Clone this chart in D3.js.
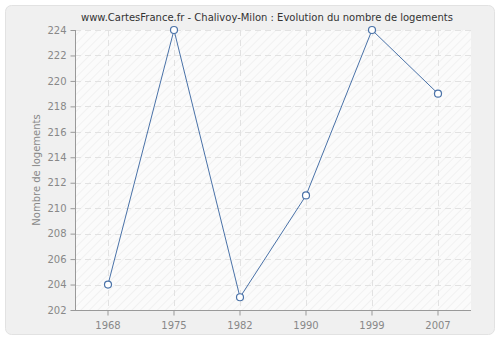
<!DOCTYPE html>
<html>
<head>
<meta charset="utf-8">
<script src="https://cdn.jsdelivr.net/npm/d3@7"></script>
<style>
  body { margin: 0; background: #fff; }
  text { font-family: "DejaVu Sans", Verdana, sans-serif; }
</style>
</head>
<body>
<script>
// data
var years = ["1968", "1975", "1982", "1990", "1999", "2007"];
var logements = [204, 224, 203, 211, 224, 219];
var yTicks = [202, 204, 206, 208, 210, 212, 214, 216, 218, 220, 222, 224];

var W = 500, H = 340;
var pLeft = 75, pRight = 471, pTop = 30, pBottom = 310;
var font = '"DejaVu Sans", Verdana, sans-serif';

var svg = d3.select('body').append('svg')
    .attr('width', W)
    .attr('height', H);

var defs = svg.append('defs');
var pat = defs.append('pattern')
    .attr('id', 'hatch')
    .attr('patternUnits', 'userSpaceOnUse')
    .attr('width', 6)
    .attr('height', 6)
    .attr('patternTransform', 'rotate(45)');
pat.append('rect').attr('width', 6).attr('height', 6).attr('fill', '#fbfbfb');
pat.append('line')
    .attr('x1', 0).attr('y1', 0).attr('x2', 0).attr('y2', 6)
    .attr('stroke', '#f1f1f1').attr('stroke-width', 2);

// outer panel
svg.append('rect')
    .attr('x', 5.5).attr('y', 5.5)
    .attr('width', 489).attr('height', 329)
    .attr('rx', 6)
    .attr('fill', '#f0f0f0')
    .attr('stroke', '#e2e2e2');

var x = d3.scaleBand().domain(years).range([pLeft, pRight]).padding(0);
var y = d3.scaleLinear().domain([202, 224]).range([pBottom, pTop]);
function cx(d) { return x(d) + x.bandwidth() / 2; }

// plot area
svg.append('rect')
    .attr('x', pLeft).attr('y', pTop)
    .attr('width', pRight - pLeft).attr('height', pBottom - pTop)
    .attr('fill', 'url(#hatch)');

// grid
svg.append('g').selectAll('line')
    .data(yTicks.slice(1)).enter()
    .append('line')
    .attr('x1', pLeft).attr('x2', pRight)
    .attr('y1', function(d) { return Math.round(y(d)) + 0.5; })
    .attr('y2', function(d) { return Math.round(y(d)) + 0.5; })
    .attr('stroke', '#e2e2e2')
    .attr('stroke-dasharray', '6,4');
svg.append('g').selectAll('line')
    .data(years).enter()
    .append('line')
    .attr('x1', function(d) { return Math.round(cx(d)) + 0.5; })
    .attr('x2', function(d) { return Math.round(cx(d)) + 0.5; })
    .attr('y1', pTop).attr('y2', pBottom)
    .attr('stroke', '#e2e2e2')
    .attr('stroke-dasharray', '6,4');

// axes
var yAxis = svg.append('g')
    .attr('transform', 'translate(' + (pLeft + 0.5) + ',0)')
    .call(d3.axisLeft(y).tickValues(yTicks).tickSize(5).tickPadding(4));
var xAxis = svg.append('g')
    .attr('transform', 'translate(0,' + (pBottom + 0.5) + ')')
    .call(d3.axisBottom(x).tickSize(5).tickPadding(6));
[yAxis, xAxis].forEach(function(g) {
    g.select('.domain').attr('stroke', '#999');
    g.selectAll('.tick line').attr('stroke', '#999');
    g.selectAll('.tick text')
        .attr('fill', '#888')
        .style('font-size', '10px')
        .style('font-family', font);
});
yAxis.select('.domain').attr('d', 'M0,' + pBottom + 'V' + pTop);
xAxis.select('.domain').attr('d', 'M' + pLeft + ',0H' + pRight);

// line
var line = d3.line()
    .x(function(d, i) { return cx(years[i]); })
    .y(function(d) { return y(d); });
svg.append('path')
    .datum(logements)
    .attr('d', line)
    .attr('fill', 'none')
    .attr('stroke', '#4a72a8')
    .attr('stroke-width', 1);

svg.append('g').selectAll('circle')
    .data(logements).enter()
    .append('circle')
    .attr('cx', function(d, i) { return cx(years[i]); })
    .attr('cy', function(d) { return y(d); })
    .attr('r', 3.5)
    .attr('fill', '#fff')
    .attr('stroke', '#4a72a8')
    .attr('stroke-width', 1.2);

// title
svg.append('text')
    .attr('x', 267).attr('y', 21)
    .attr('text-anchor', 'middle')
    .attr('fill', '#333')
    .style('font-size', '10px')
    .style('font-family', font)
    .text('www.CartesFrance.fr - Chalivoy-Milon : Evolution du nombre de logements');

svg.append('text')
    .attr('transform', 'translate(40,' + (pTop + pBottom) / 2 + ') rotate(-90)')
    .attr('text-anchor', 'middle')
    .attr('fill', '#888')
    .style('font-size', '10px')
    .style('font-family', font)
    .text('Nombre de logements');
</script>
</body>
</html>
